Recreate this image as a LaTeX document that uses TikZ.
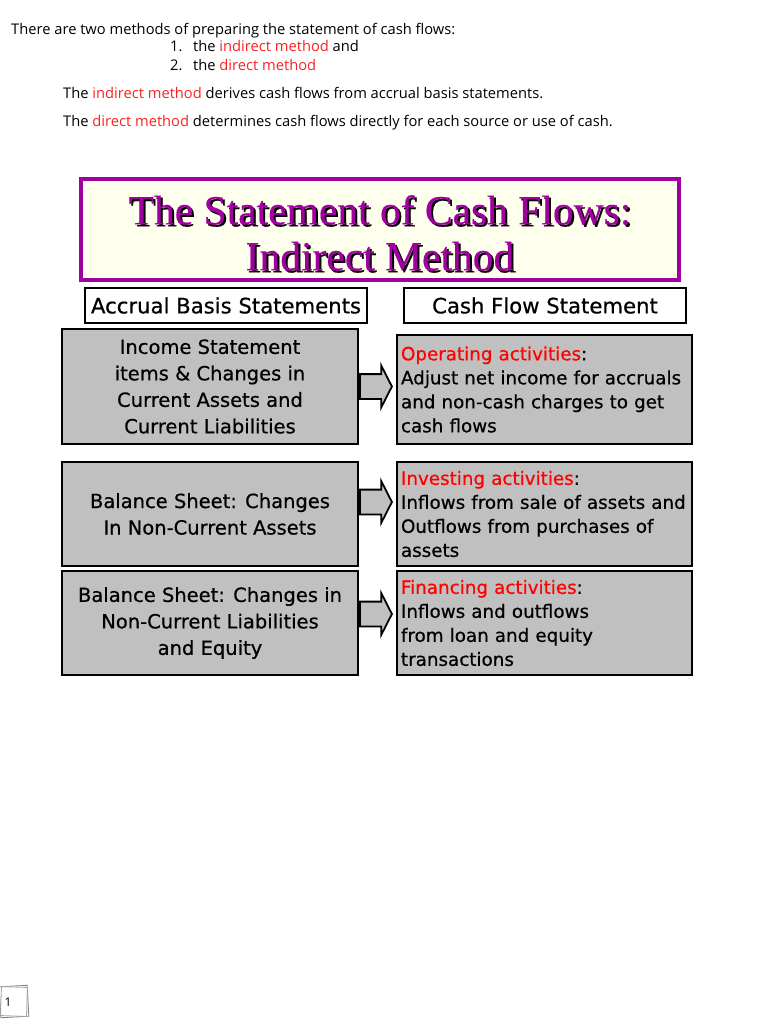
\documentclass[tikz,border=0pt]{standalone}
\usepackage{fontspec}
\setmainfont{Open Sans}
\newfontfamily\boxfont[FakeBold=0.6]{DejaVu Sans}
\newfontfamily\titlefont[FakeBold=0.4]{Liberation Serif}
\usetikzlibrary{shapes.arrows,calc}
\definecolor{hl}{RGB}{250,35,35}
\definecolor{actred}{RGB}{255,0,0}
\definecolor{boxgray}{RGB}{192,192,192}
\definecolor{plum}{RGB}{160,0,160}
\definecolor{ivory}{RGB}{255,255,238}
\newcommand{\redtxt}[1]{\textcolor{hl}{#1}}
\newcommand{\actname}[1]{\textcolor{actred}{#1}:}

\begin{document}
\begin{tikzpicture}[x=1pt,y=-1pt,
  txtline/.style={anchor=base west,inner sep=0pt,font=\fontsize{14.7}{17}\selectfont},
  lbox/.style={draw,line width=2pt,fill=boxgray,minimum width=296pt,align=center,
    font=\boxfont\fontsize{19.5}{26.5}\selectfont},
  rbox/.style={draw,line width=2pt,fill=boxgray,text width=287pt,inner xsep=4pt,align=left,
    font=\boxfont\fontsize{18.3}{24}\selectfont},
  headbox/.style={draw,line width=1.2pt,minimum width=282pt,minimum height=35pt,
    font=\boxfont\fontsize{21.2}{24}\selectfont},
  titletxt/.style={align=center,font=\titlefont\fontsize{41.5}{46}\selectfont},
  blockarr/.style={single arrow,draw,line width=1.8pt,fill=boxgray,inner sep=0pt,
    inner ysep=11.5pt,single arrow head extend=8.5pt,single arrow tip angle=126,
    minimum height=32pt,anchor=tail}]
  \fill[white] (0,0) rectangle (768,1024);
  \useasboundingbox (0,0) rectangle (768,1024);

  % intro text
  \node[txtline] (intro) at (11,35) {There are two methods of preparing the statement of cash flows:};
  \node[txtline] (n1) at (170,52) {1.};
  \node[txtline] (m1) at (193,52) {the \redtxt{indirect method} and};
  \node[txtline] (n2) at (170,71) {2.};
  \node[txtline] (m2) at (193,71) {the \redtxt{direct method}};
  \node[txtline] (ind) at (63,99) {The \redtxt{indirect method} derives cash flows from accrual basis statements.};
  \node[txtline] (dir) at (63,127) {The \redtxt{direct method} determines cash flows directly for each source or use of cash.};

  % title
  \node[draw=plum,line width=4pt,fill=ivory,minimum width=598pt,minimum height=101pt] (titlebox) at (380,229.5) {};
  \node[titletxt,text=black] (shadow) at (382,235) {The Statement of Cash Flows:\\Indirect Method};
  \node[titletxt,text=plum] (title) at (380,233) {The Statement of Cash Flows:\\Indirect Method};

  % column heads
  \node[headbox] (hacc) at (226,305.5) {Accrual Basis Statements};
  \node[headbox] (hcash) at (545,305.5) {Cash Flow Statement};

  % left column
  \node[lbox,minimum height=115pt] (b1) at (210,386.5) {Income Statement\\items \& Changes in\\Current Assets and\\Current Liabilities};
  \node[lbox,minimum height=104pt] (b2) at (210,514) {Balance Sheet: Changes\\In Non-Current Assets};
  \node[lbox,minimum height=104pt] (b3) at (210,623) {Balance Sheet: Changes in\\Non-Current Liabilities\\and Equity};

  % right column
  \node[rbox,minimum height=109pt] (b4) at (544.5,389.5) {\actname{Operating activities}\\Adjust net income for accruals\\and non-cash charges to get\\cash flows};
  \node[rbox,minimum height=104pt] (b5) at (544.5,514) {\actname{Investing activities}\\Inflows from sale of assets and\\Outflows from purchases of\\assets};
  \node[rbox,minimum height=104pt] (b6) at (544.5,623) {\actname{Financing activities}\\Inflows and outflows\\from loan and equity\\transactions};

  % arrows
  \node[blockarr] (a1) at (b1.east) {};
  \node[blockarr] (a2) at ([yshift=12pt]b2.east) {};
  \node[blockarr] (a3) at ([yshift=9pt]b3.east) {};

  % page number
  \draw[gray,line width=0.8pt,rotate around={3:(14,1001)}] (0,986) rectangle (28,1017);
  \draw[gray!70,line width=0.8pt,rotate around={-2:(14,1001)}] (1,987) rectangle (27,1016);
  \node[font=\fontsize{12}{12}\selectfont] (pg) at (8,1002) {1};
\end{tikzpicture}
\end{document}
